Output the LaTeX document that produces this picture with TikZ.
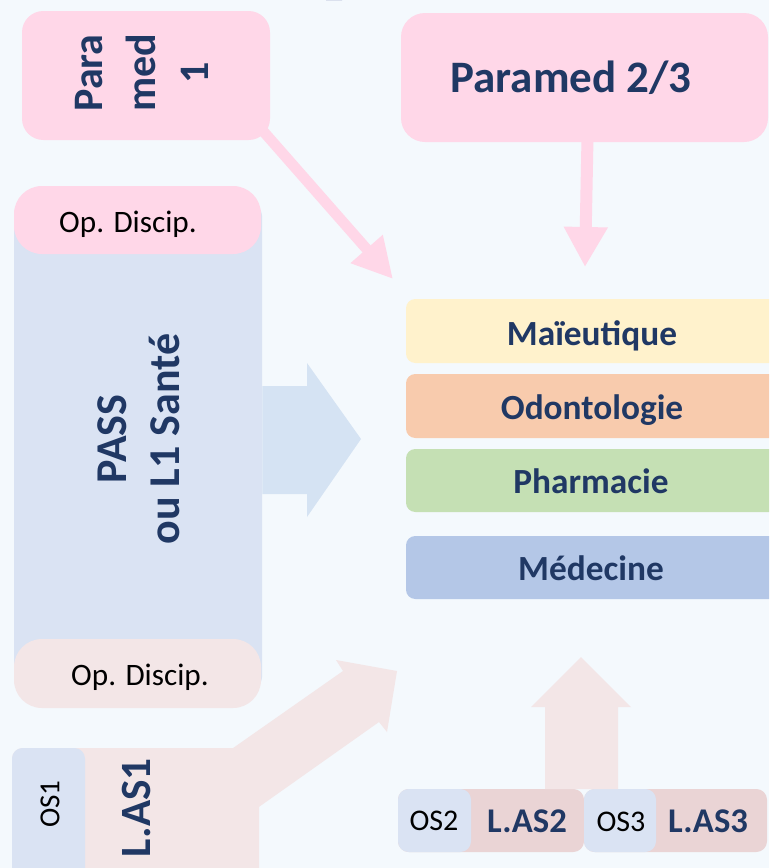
\documentclass[tikz,border=0pt]{standalone}
\usepackage{fontspec}
\setmainfont{Carlito}
\usetikzlibrary{arrows.meta,fit,calc}
\definecolor{bgc}{HTML}{F4F9FD}
\definecolor{pinkc}{HTML}{FFD7E8}
\definecolor{colblue}{HTML}{DAE3F3}
\definecolor{arrblue}{HTML}{D5E3F3}
\definecolor{lpink}{HTML}{F3E6E7}
\definecolor{lpinkb}{HTML}{EAD4D5}
\definecolor{navy}{HTML}{203864}
\definecolor{maic}{HTML}{FFF2CC}
\definecolor{odoc}{HTML}{F8CBAD}
\definecolor{phac}{HTML}{C5E0B4}
\definecolor{medc}{HTML}{B4C7E7}
\definecolor{blobc}{HTML}{2E3A8C}
\tikzset{
  box/.style={inner sep=0pt, draw=none},
  navytxt/.style={text=navy, inner sep=0pt},
  blacktxt/.style={text=black, inner sep=0pt},
  pinkarrow/.style={draw=pinkc, line width=#1},
}
\begin{document}
\begin{tikzpicture}[x=0.75pt,y=-0.75pt]
\useasboundingbox (0,0) rectangle (769,868);
\clip (0,0) rectangle (769,868);
\fill[bgc] (0,0) rectangle (769,868);
% partial glyph at top
\fill[blobc] (326,0) arc[start angle=180,end angle=360,x radius=8,y radius=3] -- cycle;

% PASS column
\node[box, fill=colblue, rounded corners=8pt, fit={(14,205)(262,688)}] (col) {};
\node[box, fill=pinkc, rounded corners=21pt, fit={(14,186)(261,254)}] (optop) {};
\node[box, fill=lpink, rounded corners=21pt, fit={(14,639)(261,708)}] (opbot) {};
\node[blacktxt, anchor=base, font=\fontsize{23.4pt}{28pt}\selectfont] (optopt) at (128,232) {Op. Discip.};
\node[blacktxt, anchor=base, font=\fontsize{23.4pt}{28pt}\selectfont] (opbott) at (140,685) {Op. Discip.};
\node[navytxt, rotate=90, align=center, font=\bfseries\fontsize{33pt}{39.75pt}\selectfont] (pass) at (139,439) {PASS\\ou L1 Santé};

% big blue arrow
\fill[arrblue] (col.east |- 0,386) -- (307,386) -- (307,363) -- (361,439) -- (307,517) -- (307,494) -- (col.east |- 0,494) -- cycle;

% Paramed boxes
\node[box, fill=pinkc, rounded corners=16pt, fit={(22,11)(270,140)}] (p1) {};
\node[navytxt, rotate=90, align=center, font=\bfseries\fontsize{31.5pt}{39.75pt}\selectfont] (p1t) at (142,73) {Para\\med\\1};
\node[box, fill=pinkc, rounded corners=18pt, fit={(401,13)(768,142)}] (p23) {};
\node[navytxt, anchor=base, font=\bfseries\fontsize{33.75pt}{40pt}\selectfont] (p23t) at (571,92) {Paramed 2/3};

\coordinate (t1) at (393,279);
\coordinate (t2) at (585,267);
\draw[pinkarrow=8pt, -{Triangle[width=30pt,length=30pt,fill=pinkc]}] ($(p1.south east)+(-7,-9)$) -- (t1);
\draw[pinkarrow=9pt, -{Triangle[width=31pt,length=30pt,fill=pinkc]}] ($(p23.south)+(3,-4)$) -- (t2);

% Colleges
\node[box, fill=maic, rounded corners=7pt, fit={(406,299)(790,363)}] (mai) {};
\node[box, fill=odoc, rounded corners=7pt, fit={(406,374)(790,438)}] (odo) {};
\node[box, fill=phac, rounded corners=7pt, fit={(406,449)(790,512)}] (pha) {};
\node[box, fill=medc, rounded corners=7pt, fit={(406,536)(790,599)}] (med) {};
\node[navytxt, anchor=base, font=\bfseries\fontsize{26.5pt}{32pt}\selectfont] (mait) at (592,345) {Maïeutique};
\node[navytxt, anchor=base, font=\bfseries\fontsize{26.5pt}{32pt}\selectfont] (odot) at (592,419) {Odontologie};
\node[navytxt, anchor=base, font=\bfseries\fontsize{26.5pt}{32pt}\selectfont] (phat) at (591,493) {Pharmacie};
\node[navytxt, anchor=base, font=\bfseries\fontsize{26.5pt}{32pt}\selectfont] (medt) at (591,580) {Médecine};

% L.AS1
\node[box, fill=lpink, rounded corners=8pt, fit={(12,748)(259,900)}] (las1) {};
\fill[lpink] (196,774) -- (343,671) -- (336,660) -- (397,671) -- (387,732) -- (379,722) -- (232,826) -- cycle;
\node[box, fill=colblue, rounded corners=8pt, fit={(12,748)(85,900)}] (os1) {};
\node[blacktxt, rotate=90, font=\fontsize{21.8pt}{26pt}\selectfont] (os1t) at (50,804) {OS1};
\node[navytxt, rotate=90, font=\bfseries\fontsize{32.4pt}{38pt}\selectfont] (las1t) at (136,808) {L.AS1};

% L.AS2 / L.AS3
\node[box, fill=lpinkb, rounded corners=8pt, fit={(398,789)(584,852)}] (las2) {};
\node[box, fill=colblue, rounded corners=8pt, fit={(398,789)(471,852)}] (os2) {};
\node[box, fill=lpinkb, rounded corners=8pt, fit={(584,789)(767,852)}] (las3) {};
\node[box, fill=colblue, rounded corners=8pt, fit={(584,789)(656,852)}] (os3) {};
\fill[lpink] (545,789) -- (545,707) -- (531,707) -- (581,657) -- (631,707) -- (618,707) -- (618,789) -- cycle;
\node[blacktxt, anchor=base, font=\fontsize{22.5pt}{27pt}\selectfont] (os2t) at (434,830) {OS2};
\node[navytxt, anchor=base, font=\bfseries\fontsize{26pt}{31pt}\selectfont] (las2t) at (527,832) {L.AS2};
\node[blacktxt, anchor=base, font=\fontsize{22.5pt}{27pt}\selectfont] (os3t) at (621,831) {OS3};
\node[navytxt, anchor=base, font=\bfseries\fontsize{26pt}{31pt}\selectfont] (las3t) at (708,832) {L.AS3};
\end{tikzpicture}
\end{document}
